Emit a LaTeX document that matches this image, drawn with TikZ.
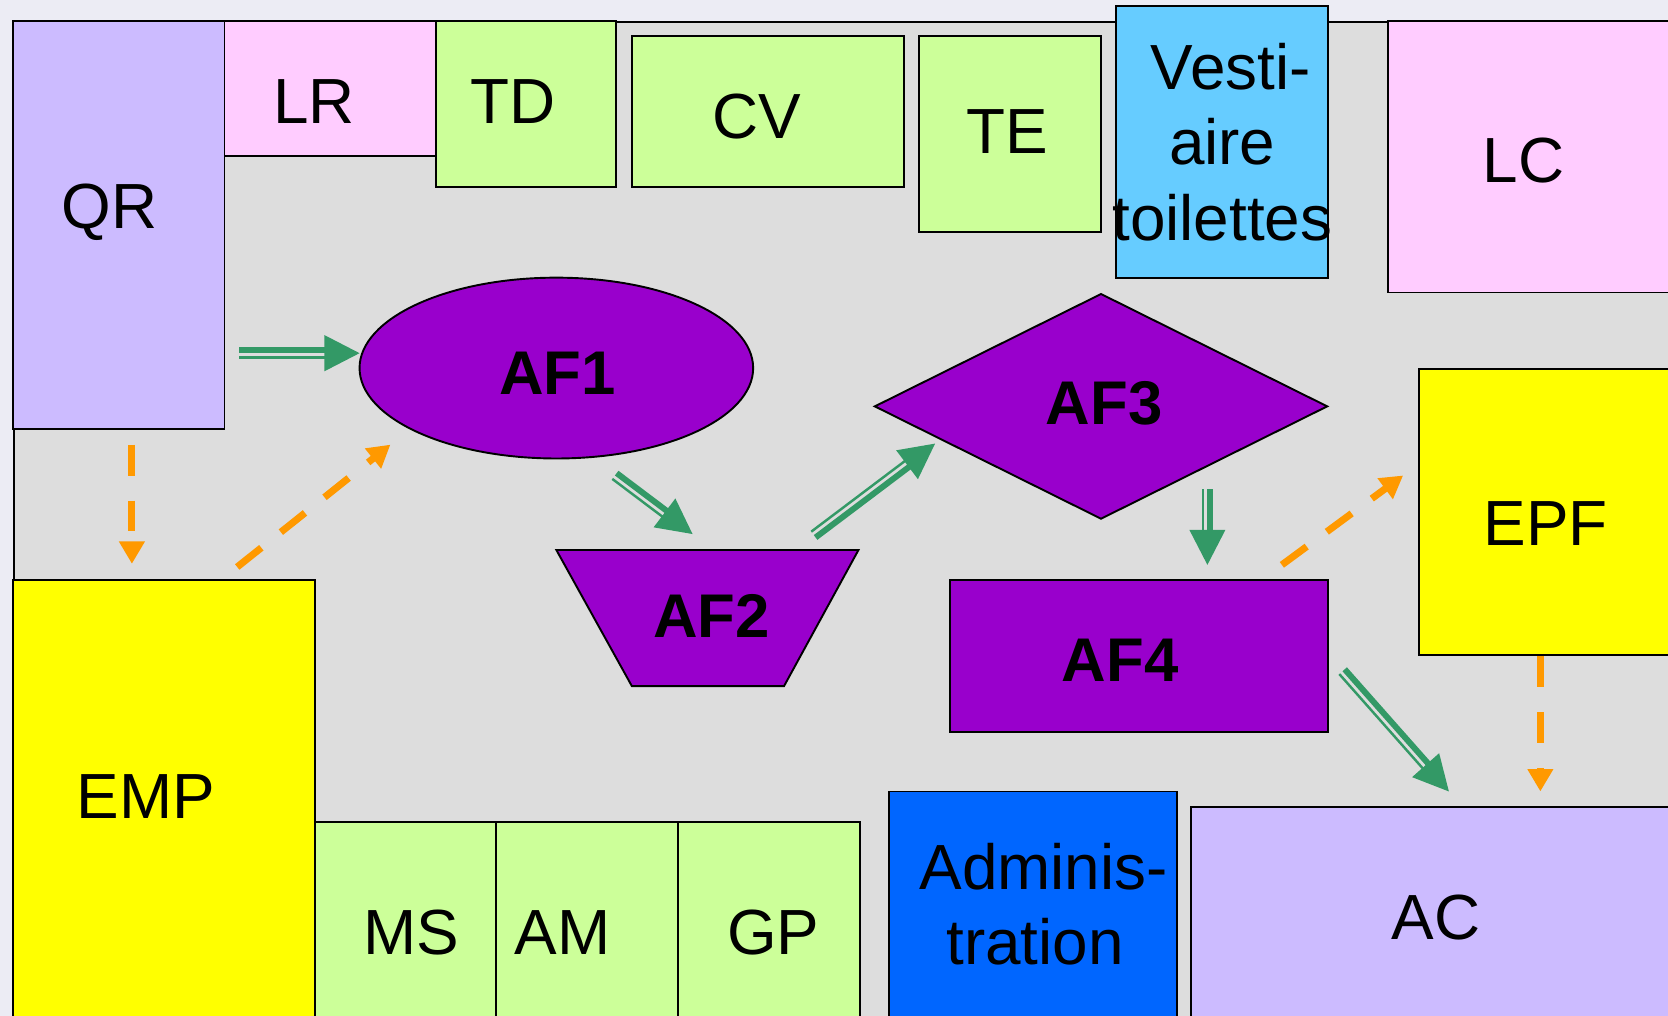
\documentclass[tikz,border=0pt]{standalone}
\usepackage{fontspec}
\setmainfont{Liberation Sans}
\usetikzlibrary{calc,shapes.geometric,arrows.meta}

\definecolor{slidebg}{RGB}{236,236,244}
\definecolor{floorgray}{RGB}{221,221,221}
\definecolor{lavender}{RGB}{204,187,255}
\definecolor{pinkroom}{RGB}{255,204,255}
\definecolor{greenroom}{RGB}{204,255,153}
\definecolor{skyroom}{RGB}{102,204,255}
\definecolor{adminblue}{RGB}{0,102,255}
\definecolor{yellowroom}{RGB}{255,255,0}
\definecolor{afviolet}{RGB}{153,0,204}
\definecolor{flowgreen}{RGB}{51,153,102}
\definecolor{floworange}{RGB}{255,153,0}

\newcommand\roomfont{\fontsize{60}{71}\selectfont}
\newcommand\affont{\fontsize{58}{70}\selectfont\bfseries}

% rectangular room given by its corners
\newcommand\room[6]{%
  \node[room, fill=#6, minimum width={(#4-#2)*1pt}, minimum height={(#5-#3)*1pt}]
    (#1) at ({(#2+#4)/2},{(#3+#5)/2}) {};}

% green flow arrow: thick line on one side, thin line on the other, solid head
\newcommand\flowarrow[4]{%
  \draw[flowgreen, line width=5.6pt]
    ($(#1)!2.8pt!#3:(#2)$) -- ($(#2)!26pt!(#1)!2.8pt!#4:(#1)$);
  \draw[flowgreen, line width=2.3pt]
    ($(#1)!4pt!#4:(#2)$) -- ($(#2)!26pt!(#1)!4pt!#3:(#1)$);
  \fill[flowgreen] (#2) -- ($(#2)!33pt!(#1)!17pt!90:(#1)$)
    -- ($(#2)!33pt!(#1)!17pt!-90:(#1)$) -- cycle;}

\tikzset{
  room/.style={draw=black, line width=1.8pt, rectangle, inner sep=0pt},
  lbl/.style={font=\roomfont, inner sep=0pt, anchor=base, align=center},
  af/.style={draw=black, line width=1.8pt, fill=afviolet, inner sep=0pt},
  aflbl/.style={font=\affont, inner sep=0pt, anchor=base},
  oarrow/.style={draw=floworange, line width=6.6pt, dash pattern=on 29pt off 23.5pt,
    -{Triangle[length=21pt,width=23pt]}},
}

\begin{document}
\begin{tikzpicture}[x=1pt,y=-1pt]
\useasboundingbox (0,0) rectangle (1568,955);
\clip (0,0) rectangle (1568,955);
\fill[slidebg] (0,0) rectangle (1568,955);

% floor area
\node[room, fill=floorgray, minimum width=1600pt, minimum height=1000pt,
  anchor=north west] (floor) at (12,20) {};

% rooms
\room{qr}{12}{20}{211}{403}{lavender}
\room{lr}{211}{20}{410}{147}{pinkroom}
\room{td}{410}{20}{579}{176}{greenroom}
\room{cv}{594}{34}{850}{176}{greenroom}
\room{te}{864}{34}{1035}{218}{greenroom}
\room{vt}{1049}{6}{1248}{261}{skyroom}
\room{lc}{1305}{20}{1620}{275}{pinkroom}
\room{epf}{1334}{347}{1620}{616}{yellowroom}
\room{emp}{12}{545}{296}{1000}{yellowroom}
\room{ms}{296}{773}{466}{1000}{greenroom}
\room{am}{466}{773}{637}{1000}{greenroom}
\room{gp}{637}{773}{808}{1000}{greenroom}
\room{adm}{836}{744}{1106}{1000}{adminblue}
\room{ac}{1120}{759}{1620}{1000}{lavender}

\node[lbl] (qrl) at (103,215) {QR};
\node[lbl] (lrl) at (295,116) {LR};
\node[lbl] (tdl) at (482,116) {TD};
\node[lbl] (cvl) at (711,130) {CV};
\node[lbl] (tel) at (947,144) {TE};
\node[lbl] (vtl) at (1149,226) {\hspace*{16pt}Vesti-\\aire\\toilettes};
\node[lbl] (lcl) at (1432,172) {LC};
\node[lbl] (epfl) at (1453,513) {EPF};
\node[lbl] (empl) at (137,769) {EMP};
\node[lbl] (msl) at (387,897) {MS};
\node[lbl] (aml) at (529,897) {AM};
\node[lbl] (gpl) at (727,897) {GP};
\node[lbl] (adml) at (973,907) {\hspace*{16pt}Adminis-\\tration};
\node[lbl] (acl) at (1350,883) {AC};

% activity zones
\node[af, ellipse, minimum width=370pt, minimum height=170pt] (af1) at (523,346) {};
\draw[af] (523,517) -- (807,517) -- (737,645) -- (594,645) -- cycle;
\node[af, diamond, minimum width=426pt, minimum height=212pt] (af3) at (1035,382) {};
\room{af4}{893}{545}{1248}{688}{afviolet}

\node[aflbl] (af1l) at (524,371) {AF1};
\node[aflbl] (af2l) at (669,599) {AF2};
\node[aflbl] (af3l) at (1038,399) {AF3};
\node[aflbl] (af4l) at (1053,641) {AF4};

% arrow end points
\coordinate (g1a) at (225,332);  \coordinate (g1b) at (338,332);
\coordinate (g2a) at (578,447);  \coordinate (g2b) at (651,502);
\coordinate (g3a) at (765,503);  \coordinate (g3b) at (879,417);
\coordinate (g4a) at (1135,460); \coordinate (g4b) at (1135,531);
\coordinate (g5a) at (1262,631); \coordinate (g5b) at (1362,744);
\coordinate (o1a) at (124,418);  \coordinate (o1b) at (124,530);
\coordinate (o2a) at (223,533);  \coordinate (o2b) at (367,418);
\coordinate (o3a) at (1205,531); \coordinate (o3b) at (1319,447);
\coordinate (o4a) at (1448,617); \coordinate (o4b) at (1448,744);

% main flow
\flowarrow{g1a}{g1b}{90}{-90}
\flowarrow{g2a}{g2b}{90}{-90}
\flowarrow{g3a}{g3b}{-90}{90}
\flowarrow{g4a}{g4b}{90}{-90}
\flowarrow{g5a}{g5b}{90}{-90}

% secondary flow
\draw[oarrow] (o1a) -- (o1b);
\draw[oarrow] (o2a) -- (o2b);
\draw[oarrow] (o3a) -- (o3b);
\draw[oarrow] (o4a) -- (o4b);
\end{tikzpicture}
\end{document}
